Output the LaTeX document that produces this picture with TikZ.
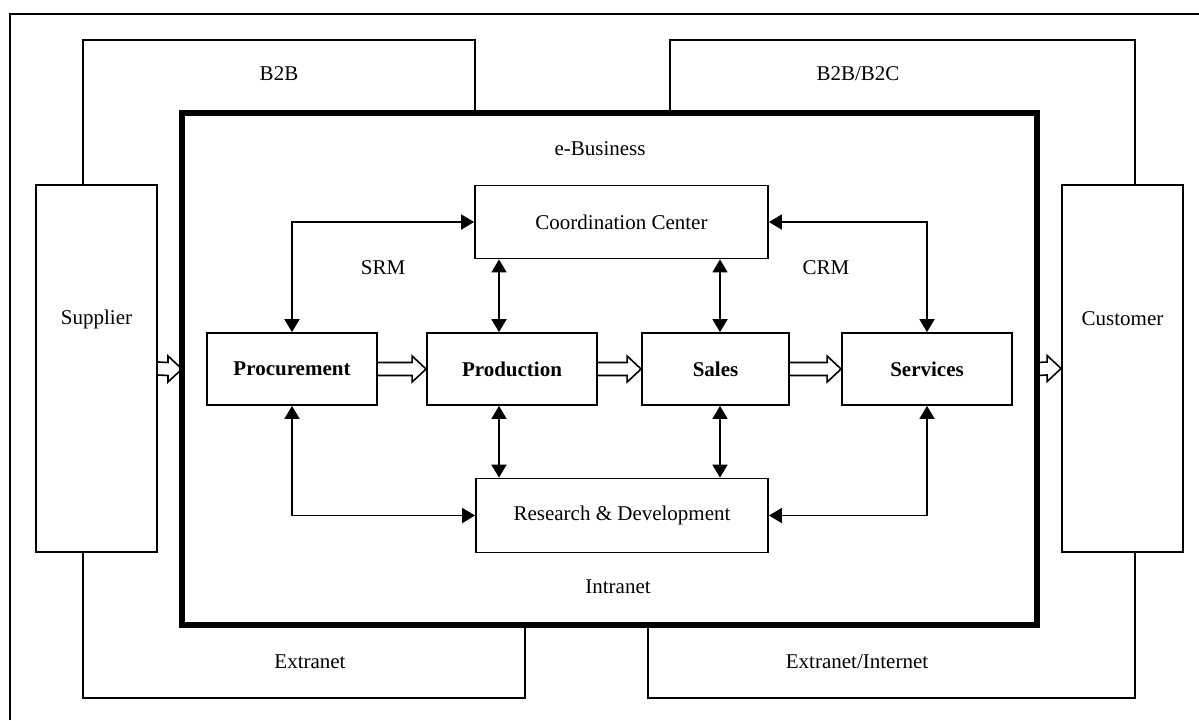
\documentclass[tikz,border=0pt]{standalone}
\usepackage{fontspec}
\setmainfont{Liberation Serif}
\usetikzlibrary{arrows.meta,calc}

\tikzset{
  box/.style={draw, line width=0.9pt, rectangle, inner sep=0pt},
  bigbox/.style={draw, line width=3pt, rectangle, inner sep=0pt, outer sep=0pt},
  link/.style={line width=0.9pt},
  dbl/.style={line width=0.9pt, {Triangle[length=6.5pt,width=7.5pt]}-{Triangle[length=6.5pt,width=7.5pt]}},
  hollow/.style={line width=0.8pt, line join=miter},
  lbl/.style={inner sep=0pt},
}

% block arrow outline from the edge of one node to the edge of another
\newcommand\fatarrow[2]{%
  \draw[hollow] ($(#1)+(0,-6.5)$) -- ($(#2)+(-14,-6.5)$) -- ($(#2)+(-14,-13)$)
    -- (#2) -- ($(#2)+(-14,13)$) -- ($(#2)+(-14,6.5)$) -- ($(#1)+(0,6.5)$);}

\begin{document}
\begin{tikzpicture}[x=0.5pt, y=-0.5pt, font=\fontsize{10.5}{12}\selectfont]
\useasboundingbox (0,0) rectangle (1199,720);

% outer frame
\draw[link] (10,720) -- (10,14) -- (1199,14);

% column positions
\coordinate (xsup) at (83,0);
\coordinate (xcus) at (1135,0);
\coordinate (colA) at (499,0);
\coordinate (colB) at (720,0);

% e-Business frame
\node[bigbox, minimum width=427.5pt, minimum height=256pt] (ebiz) at (609.5,369) {};

% partners
\node[box, minimum width=60.5pt, minimum height=183.5pt] (supplier) at (96.5,368.5) {};
\node[box, minimum width=60.5pt, minimum height=183.5pt] (customer) at (1122.5,368.5) {};
\node[lbl] (suptxt) at (96.5,319) {Supplier};
\node[lbl] (custxt) at (1122.5,319) {Customer};

% inner functions
\node[box, minimum width=146.5pt, minimum height=36.5pt] (cc) at (621.5,222) {Coordination Center};
\node[box, minimum width=85pt, minimum height=36pt, font=\fontsize{10.5}{12}\selectfont\bfseries] (proc) at (292,369) {Procurement};
\node[box, minimum width=85pt, minimum height=36pt, font=\fontsize{10.5}{12}\selectfont\bfseries] (prod) at (512,369) {Production};
\node[box, minimum width=73.5pt, minimum height=36pt, font=\fontsize{10.5}{12}\selectfont\bfseries] (sales) at (715.5,369) {Sales};
\node[box, minimum width=85pt, minimum height=36pt, font=\fontsize{10.5}{12}\selectfont\bfseries] (serv) at (927,369) {Services};
\node[box, minimum width=146pt, minimum height=37pt] (rd) at (622,515.5) {Research \& Development};

% labels
\node[lbl] (b2b) at (279,74) {B2B};
\node[lbl] (b2bc) at (858,74) {B2B/B2C};
\node[lbl] (ebtxt) at (600,149) {e-Business};
\node[lbl] (srm) at (383,268) {SRM};
\node[lbl] (crm) at (826,268) {CRM};
\node[lbl] (intra) at (618,587) {Intranet};
\node[lbl] (extra) at (310,662) {Extranet};
\node[lbl] (extint) at (857,662) {Extranet/Internet};

% partner brackets
\draw[link] (supplier.north -| xsup) |- (475,40) -- (475,113);
\draw[link] (670,113) |- (1135,40) -- (customer.north -| xcus);
\draw[link] (supplier.south -| xsup) |- (525,698) -- (525,625);
\draw[link] (648,625) |- (1135,698) -- (customer.south -| xcus);

% coordination and R&D links
\draw[dbl] (proc.north) |- (cc.west);
\draw[dbl] (serv.north) |- (cc.east);
\draw[dbl] (proc.south) |- (rd.west);
\draw[dbl] (serv.south) |- (rd.east);
\draw[dbl] (cc.south -| colA) -- (prod.north -| colA);
\draw[dbl] (prod.south -| colA) -- (rd.north -| colA);
\draw[dbl] (cc.south -| colB) -- (sales.north -| colB);
\draw[dbl] (sales.south -| colB) -- (rd.north -| colB);

% value chain flow
\fatarrow{supplier.east}{ebiz.west}
\fatarrow{proc.east}{prod.west}
\fatarrow{prod.east}{sales.west}
\fatarrow{sales.east}{serv.west}
\fatarrow{ebiz.east}{customer.west}
\end{tikzpicture}
\end{document}
